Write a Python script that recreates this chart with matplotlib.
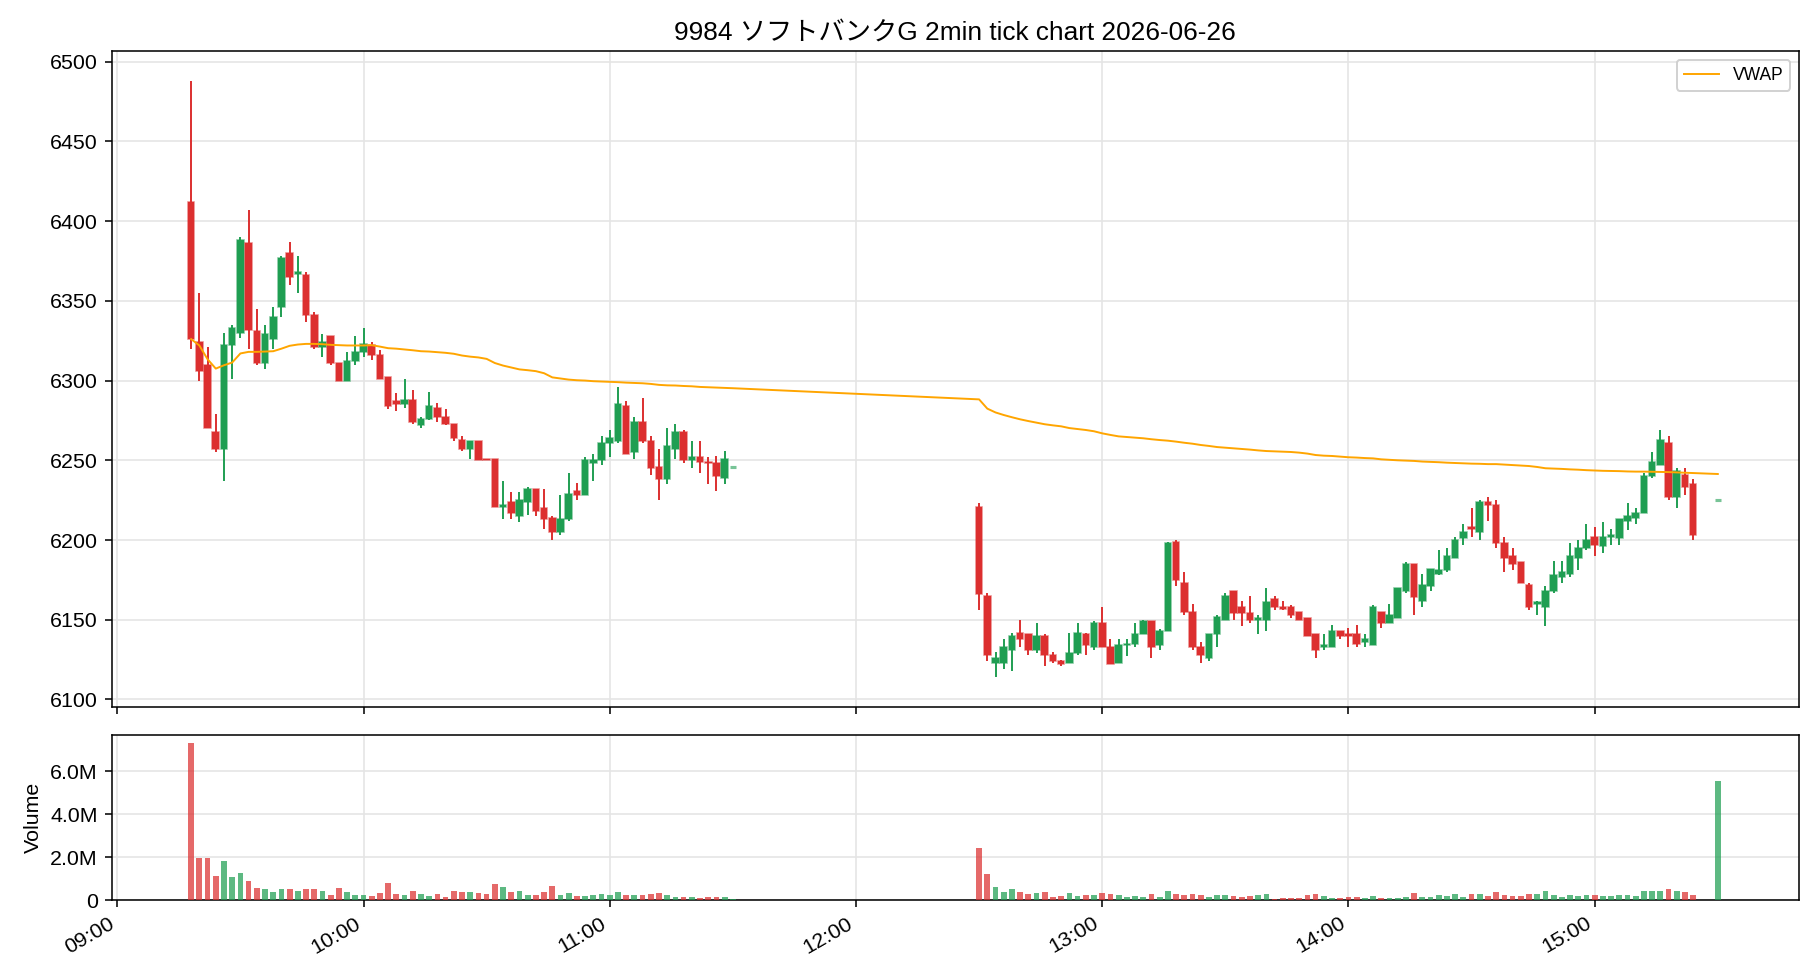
import matplotlib
matplotlib.use("Agg")
import matplotlib.pyplot as plt
import matplotlib.dates as mdates
from matplotlib.ticker import MultipleLocator, FuncFormatter
import numpy as np
import pandas as pd

plt.rcParams['font.family'] = ['Liberation Sans', 'Noto Sans CJK JP', 'DejaVu Sans']

# ---------------- data ----------------
DAY = "2026-06-26"
am_times = pd.date_range(f"{DAY} 09:18", f"{DAY} 11:30", freq="2min")
pm_times = list(pd.date_range(f"{DAY} 12:30", f"{DAY} 15:24", freq="2min")) + [pd.Timestamp(f"{DAY} 15:30")]

am_open = [6412, 6324, 6310, 6268, 6257, 6322, 6330, 6386, 6331, 6311, 6326, 6346, 6380, 6367, 6366, 6341, 6321,
           6328, 6311, 6300, 6312, 6318, 6322, 6316, 6302, 6287, 6285, 6288, 6272, 6276, 6283, 6277, 6273, 6263,
           6257, 6262, 6251, 6251, 6221, 6224, 6215, 6224, 6232, 6220, 6214, 6205, 6213, 6231, 6228, 6248, 6250,
           6261, 6262, 6284, 6255, 6274, 6262, 6246, 6238, 6257, 6268, 6250, 6252, 6249, 6248, 6239, 6246]
am_high = [6488, 6355, 6321, 6279, 6330, 6335, 6390, 6407, 6345, 6335, 6346, 6378, 6387, 6378, 6368, 6343, 6329,
           6328, 6311, 6318, 6328, 6333, 6324, 6319, 6302, 6292, 6301, 6294, 6277, 6293, 6286, 6282, 6273, 6265,
           6262, 6262, 6251, 6251, 6237, 6230, 6230, 6233, 6232, 6232, 6215, 6228, 6242, 6236, 6252, 6254, 6265,
           6269, 6296, 6287, 6277, 6289, 6265, 6257, 6270, 6273, 6269, 6262, 6262, 6252, 6253, 6256, 6246]
am_low = [6320, 6300, 6270, 6255, 6237, 6301, 6327, 6320, 6310, 6307, 6320, 6340, 6360, 6355, 6337, 6320, 6315,
          6310, 6300, 6300, 6310, 6315, 6313, 6301, 6282, 6281, 6283, 6273, 6270, 6275, 6274, 6272, 6262, 6256,
          6251, 6250, 6250, 6221, 6213, 6213, 6211, 6216, 6215, 6207, 6200, 6203, 6212, 6225, 6228, 6237, 6247,
          6252, 6261, 6254, 6251, 6261, 6241, 6225, 6235, 6251, 6248, 6245, 6242, 6235, 6231, 6235, 6246]
am_close = [6326, 6306, 6270, 6257, 6322, 6333, 6388, 6332, 6311, 6329, 6340, 6377, 6365, 6368, 6341, 6321, 6324,
            6311, 6300, 6312, 6318, 6323, 6316, 6301, 6284, 6285, 6288, 6274, 6276, 6284, 6277, 6273, 6264, 6257,
            6262, 6250, 6250, 6221, 6222, 6217, 6225, 6232, 6218, 6213, 6205, 6213, 6229, 6228, 6250, 6250, 6261,
            6264, 6285, 6254, 6274, 6262, 6245, 6238, 6259, 6268, 6250, 6252, 6249, 6248, 6240, 6251, 6246]
am_volume = [7.34, 1.95, 1.95, 1.14, 1.80, 1.06, 1.28, 0.91, 0.58, 0.53, 0.39, 0.53, 0.53, 0.44, 0.53, 0.53, 0.44,
             0.25, 0.58, 0.39, 0.25, 0.25, 0.20, 0.34, 0.81, 0.30, 0.25, 0.44, 0.30, 0.20, 0.30, 0.16, 0.44, 0.39,
             0.39, 0.34, 0.30, 0.77, 0.63, 0.39, 0.44, 0.25, 0.25, 0.39, 0.67, 0.25, 0.34, 0.20, 0.20, 0.25, 0.30,
             0.25, 0.39, 0.25, 0.25, 0.25, 0.30, 0.34, 0.25, 0.16, 0.16, 0.16, 0.11, 0.16, 0.16, 0.16, 0.06]
am_vwap = [6326, 6322, 6313.4, 6307.5, 6309.6, 6311.3, 6317, 6318, 6318, 6318.2, 6318.4, 6320, 6321.8, 6322.6,
           6323, 6323, 6322.8, 6322.4, 6322.2, 6322, 6322, 6322, 6322.2, 6321.3, 6320.3, 6320, 6319.5, 6319,
           6318.4, 6318.2, 6317.8, 6317.4, 6316.8, 6315.7, 6315, 6314.5, 6313.6, 6311, 6309.4, 6308.2, 6307,
           6306.5, 6305.9, 6304.6, 6302, 6301.3, 6300.6, 6300.2, 6300, 6299.6, 6299.4, 6299.2, 6299, 6298.7,
           6298.5, 6298.3, 6297.9, 6297.3, 6297, 6296.9, 6296.6, 6296.4, 6296, 6295.8, 6295.6, 6295.4, 6295.2]

pm_open = [6221, 6165, 6123, 6123, 6131, 6142, 6141, 6131, 6140, 6128, 6124, 6123, 6129, 6141, 6133, 6148, 6133,
           6123, 6134, 6135, 6141, 6149, 6134, 6143, 6199, 6173, 6155, 6133, 6126, 6141, 6150, 6168, 6158, 6154,
           6150, 6150, 6163, 6158, 6158, 6155, 6151, 6141, 6133, 6133, 6143, 6141, 6141, 6136, 6134, 6155, 6148,
           6151, 6168, 6185, 6162, 6171, 6179, 6181, 6189, 6201, 6208, 6205, 6224, 6222, 6198, 6190, 6186, 6172,
           6160, 6158, 6168, 6177, 6179, 6189, 6195, 6202, 6196, 6202, 6201, 6212, 6214, 6217, 6240, 6247, 6261,
           6227, 6241, 6235, 6225]
pm_high = [6223, 6167, 6130, 6138, 6142, 6150, 6141, 6148, 6141, 6130, 6125, 6142, 6148, 6142, 6149, 6158, 6138,
           6138, 6138, 6148, 6150, 6149, 6144, 6199, 6200, 6180, 6160, 6136, 6141, 6153, 6167, 6168, 6162, 6165,
           6153, 6170, 6165, 6162, 6159, 6155, 6151, 6141, 6141, 6147, 6143, 6145, 6147, 6141, 6159, 6155, 6160,
           6170, 6186, 6185, 6179, 6182, 6194, 6195, 6202, 6210, 6220, 6225, 6227, 6225, 6202, 6195, 6186, 6173,
           6162, 6171, 6187, 6187, 6198, 6200, 6210, 6208, 6211, 6207, 6213, 6223, 6220, 6242, 6255, 6269, 6265,
           6245, 6245, 6238, 6225]
pm_low = [6156, 6124, 6114, 6119, 6118, 6133, 6128, 6129, 6121, 6123, 6121, 6123, 6128, 6128, 6131, 6133, 6122,
          6123, 6127, 6133, 6141, 6126, 6131, 6143, 6171, 6153, 6131, 6123, 6124, 6133, 6150, 6150, 6146, 6148,
          6141, 6143, 6156, 6156, 6151, 6150, 6140, 6126, 6131, 6133, 6138, 6133, 6133, 6133, 6134, 6145, 6148,
          6151, 6167, 6153, 6158, 6168, 6178, 6180, 6189, 6197, 6202, 6200, 6212, 6195, 6180, 6181, 6173, 6156,
          6153, 6146, 6167, 6173, 6177, 6181, 6194, 6190, 6192, 6197, 6197, 6206, 6210, 6217, 6239, 6247, 6225,
          6220, 6228, 6200, 6225]
pm_close = [6166, 6128, 6126, 6133, 6140, 6138, 6131, 6140, 6128, 6124, 6122, 6129, 6142, 6134, 6148, 6133, 6122,
            6134, 6135, 6141, 6149, 6133, 6143, 6198, 6175, 6155, 6133, 6128, 6141, 6152, 6165, 6154, 6154, 6150,
            6151, 6161, 6158, 6157, 6153, 6150, 6140, 6131, 6134, 6143, 6140, 6140, 6135, 6138, 6158, 6148, 6153,
            6170, 6185, 6164, 6172, 6182, 6181, 6190, 6200, 6205, 6207, 6224, 6222, 6198, 6189, 6185, 6173, 6158,
            6161, 6168, 6178, 6180, 6190, 6195, 6200, 6197, 6202, 6203, 6213, 6215, 6217, 6240, 6249, 6263, 6227,
            6243, 6233, 6203, 6225]
pm_volume = [2.42, 1.23, 0.63, 0.39, 0.53, 0.39, 0.30, 0.34, 0.39, 0.16, 0.20, 0.34, 0.20, 0.25, 0.25, 0.34, 0.30,
             0.25, 0.16, 0.20, 0.16, 0.30, 0.16, 0.44, 0.30, 0.25, 0.30, 0.25, 0.16, 0.25, 0.25, 0.20, 0.16, 0.20,
             0.25, 0.30, 0.06, 0.11, 0.11, 0.11, 0.25, 0.30, 0.20, 0.11, 0.11, 0.16, 0.16, 0.11, 0.20, 0.11, 0.11,
             0.11, 0.16, 0.34, 0.16, 0.16, 0.25, 0.20, 0.30, 0.16, 0.30, 0.30, 0.20, 0.39, 0.25, 0.20, 0.20, 0.30,
             0.30, 0.44, 0.25, 0.16, 0.25, 0.20, 0.25, 0.25, 0.20, 0.20, 0.25, 0.25, 0.20, 0.44, 0.44, 0.44, 0.53,
             0.44, 0.39, 0.25, 5.55]
pm_vwap = [6288.2, 6282.4, 6280, 6278.4, 6277, 6275.7, 6274.6, 6273.6, 6272.6, 6271.9, 6271.3, 6270.2, 6269.6,
           6269, 6268.2, 6266.9, 6265.9, 6265, 6264.6, 6264.2, 6263.8, 6263.2, 6262.7, 6262.3, 6261.7, 6261,
           6260.4, 6259.6, 6259, 6258.3, 6257.9, 6257.5, 6257.1, 6256.7, 6256.2, 6255.8, 6255.6, 6255.4, 6255.2,
           6254.8, 6254.2, 6253.3, 6252.9, 6252.7, 6252.3, 6251.9, 6251.7, 6251.4, 6251.2, 6250.6, 6250.3, 6250,
           6249.8, 6249.6, 6249.2, 6249, 6248.8, 6248.5, 6248.3, 6248.1, 6247.9, 6247.8, 6247.6, 6247.6, 6247.3,
           6247, 6246.7, 6246.4, 6245.8, 6245, 6244.8, 6244.6, 6244.3, 6244.1, 6243.8, 6243.6, 6243.4, 6243.3,
           6243.2, 6243, 6242.9, 6242.9, 6242.8, 6242.7, 6242.6, 6242.4, 6242.2, 6242, 6241.4]

times = list(am_times) + pm_times
opens = np.array(am_open + pm_open, float)
highs = np.array(am_high + pm_high, float)
lows = np.array(am_low + pm_low, float)
closes = np.array(am_close + pm_close, float)
volumes = np.array(am_volume + pm_volume, float) * 1e6
vwap = np.array(am_vwap + pm_vwap, float)

# ---------------- plot ----------------
UP = '#1f9e52'
DOWN = '#dc2f2f'

x = mdates.date2num(pd.DatetimeIndex(times).to_pydatetime())
minute = 1.0 / 1440.0
up = closes >= opens
colors = np.where(up, UP, DOWN)

fig = plt.figure(figsize=(13, 7), dpi=140)
ax = fig.add_axes([0.0613, 0.2786, 0.9272, 0.6694])
axv = fig.add_axes([0.0613, 0.0816, 0.9272, 0.1687], sharex=ax)

for a in (ax, axv):
    a.grid(True, color='#e4e4e4', linewidth=0.8, zorder=0)
    a.set_axisbelow(True)

# wicks
ax.vlines(x, lows, highs, colors=colors, linewidth=1.0, zorder=2)
# bodies
bottoms = np.minimum(opens, closes)
heights = np.abs(closes - opens)
flat = heights == 0
edge_lw = np.where(flat, 1.6, 0.8)
ax.bar(x, heights, width=1.6 * minute, bottom=bottoms, color=colors,
       edgecolor=[(c, 0.6) for c in colors], linewidth=edge_lw, zorder=3)

ax.plot(x, vwap, color='orange', linewidth=1.0, label='VWAP', zorder=4)
ax.legend(loc='upper right', fontsize=9, framealpha=0.9)

ax.yaxis.set_major_locator(MultipleLocator(50))
ax.tick_params(axis='both', labelsize=11)
ax.tick_params(axis='x', labelbottom=False)
ax.set_title(f"9984 ソフトバンクG 2min tick chart {DAY}", fontsize=13.5)

# volume
axv.bar(x, volumes, width=1.4 * minute, color=colors, alpha=0.72, zorder=3)
axv.yaxis.set_major_locator(MultipleLocator(2e6))
axv.yaxis.set_major_formatter(FuncFormatter(lambda v, p: '0' if v == 0 else f"{v/1e6:.1f}M"))
axv.set_ylabel('Volume', fontsize=11)
axv.tick_params(axis='both', labelsize=11)

axv.xaxis.set_major_locator(mdates.HourLocator())
axv.xaxis.set_major_formatter(mdates.DateFormatter('%H:%M'))
for lbl in axv.get_xticklabels():
    lbl.set_rotation(30)
    lbl.set_ha('right')

start = mdates.date2num(pd.Timestamp(f"{DAY} 09:00").to_pydatetime())
ax.set_xlim(start - 1.39 * minute, start + 409.8 * minute)

fig.savefig('out.png', dpi=140)
